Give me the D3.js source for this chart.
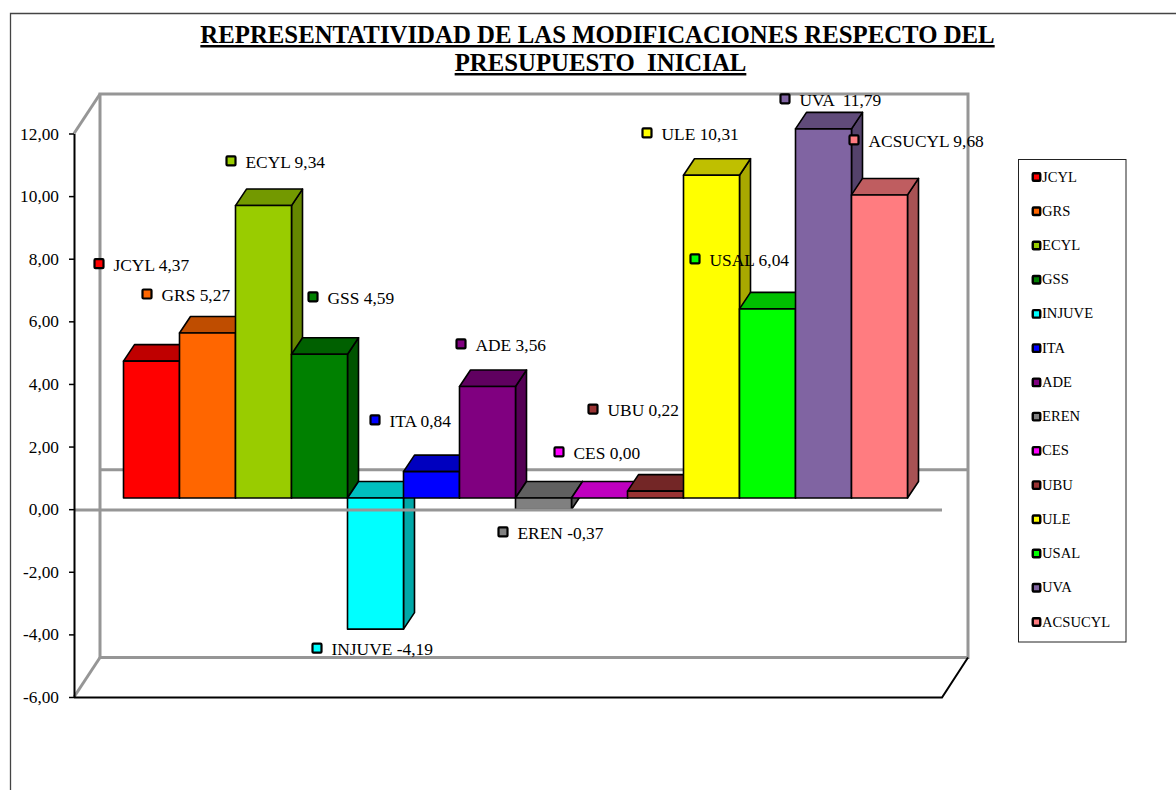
<!DOCTYPE html>
<html>
<head>
<meta charset="utf-8">
<script src="https://cdn.jsdelivr.net/npm/d3@7"></script>
<style>
html,body{margin:0;padding:0;background:#fff;}
svg{display:block;font-family:"Liberation Serif","Times New Roman",serif;}
text{white-space:pre;fill:#000;}
</style>
</head>
<body>
<div id="chart"></div>
<script>
const categories = ["JCYL","GRS","ECYL","GSS","INJUVE","ITA","ADE","EREN","CES","UBU","ULE","USAL","UVA","ACSUCYL"];
const values = [4.37,5.27,9.34,4.59,-4.19,0.84,3.56,-0.37,0,0.22,10.31,6.04,11.79,9.68];
const colors = ["#ff0000","#ff6600","#99cc00","#008000","#00ffff","#0000ff","#800080","#808080","#ff00ff","#993333","#ffff00","#00ff00","#8064a2","#ff7c80"];
const labelTexts = ["JCYL 4,37","GRS 5,27","ECYL 9,34","GSS 4,59","INJUVE -4,19","ITA 0,84","ADE 3,56","EREN -0,37","CES 0,00","UBU 0,22","ULE 10,31","USAL 6,04","UVA  11,79","ACSUCYL 9,68"];
const titleLines = ["REPRESENTATIVIDAD DE LAS MODIFICACIONES RESPECTO DEL","PRESUPUESTO  INICIAL"];
const yTicks = [-6,-4,-2,0,2,4,6,8,10,12];
// label marker offset from each bar's front corner (layout only)
const labelOffsets = [[-24.5,-97.5],[-32.5,-39],[-4.5,-44.6],[21.5,-57.4],[-30.5,19],[-28.5,-51.7],[1.5,-42.6],[-12.5,22.4],[-12.5,-46],[-34.5,-82],[-36.5,-42.3],[-44.5,-50],[-10.5,-30],[2.5,-55]];

const W = 1176, H = 790;
const svg = d3.select("#chart").append("svg").attr("width", W).attr("height", H);

const axisX = 74, rightX = 942, wallDX = 26, wallDY = -39.5;
const y = d3.scaleLinear().domain([-6,12]).range([697,133.5]);
const x = d3.scaleBand().domain(categories).range([123.5,907.5]);
const depthX = 11, depthY = -16.5, frontLift = 11.2;
const fmt = d => d.toFixed(2).replace(".", ",");

// outer frame
svg.append("path").attr("d",`M10.5,790V13.5H${W}`).attr("fill","none").attr("stroke","#444").attr("stroke-width",1.3);

// title
const title = svg.append("g").attr("font-weight","bold").attr("font-size",24.8).attr("text-decoration","underline").attr("text-anchor","middle");
title.append("text").attr("x",597.5).attr("y",43).text(titleLines[0]);
title.append("text").attr("x",600.5).attr("y",71).text(titleLines[1]);

// walls
const grey = "#969696";
const wallTop = y(12)+wallDY, wallBot = y(-6)+wallDY;
const wall = svg.append("g").attr("fill","none").attr("stroke",grey).attr("stroke-width",3);
wall.append("path").attr("d",`M${axisX+wallDX},${wallBot}V${wallTop}H${rightX+wallDX}V${wallBot}Z`);
wall.append("path").attr("d",`M${axisX},${y(12)}L${axisX+wallDX},${wallTop}`);
wall.append("path").attr("d",`M${axisX},${y(-6)}L${axisX+wallDX},${wallBot}`);
wall.append("path").attr("d",`M${axisX+wallDX},${y(0)+wallDY}H${rightX+wallDX}`);

// bars
const shade = (c,k) => { const r = d3.rgb(c); return d3.rgb(r.r*k,r.g*k,r.b*k).formatHex(); };
const bars = svg.append("g").attr("stroke","#000").attr("stroke-width",1.6).attr("stroke-linejoin","round")
  .selectAll("g").data(categories).join("g");
bars.each(function(name,i){
  const g = d3.select(this), v = values[i];
  const x0 = x(name), x1 = x0 + x.bandwidth();
  const yTop = y(Math.max(v,0)) - frontLift, yBot = y(Math.min(v,0)) - frontLift;
  g.append("path").attr("fill",shade(colors[i],0.66))
    .attr("d",`M${x1},${yTop}L${x1+depthX},${yTop+depthY}V${yBot+depthY}L${x1},${yBot}Z`);
  g.append("path").attr("fill",shade(colors[i],0.75))
    .attr("d",`M${x0},${yTop}L${x0+depthX},${yTop+depthY}H${x1+depthX}L${x1},${yTop}Z`);
  g.append("rect").attr("x",x0).attr("y",yTop).attr("width",x.bandwidth()).attr("height",yBot-yTop).attr("fill",colors[i]);
});

// front zero line, floor edges
svg.append("line").attr("x1",axisX).attr("x2",rightX).attr("y1",y(0)+0.8).attr("y2",y(0)+0.8)
  .attr("stroke",grey).attr("stroke-width",3);
svg.append("path").attr("d",`M${axisX},${y(-6)+0.5}H${rightX}L${rightX+wallDX},${wallBot}`)
  .attr("fill","none").attr("stroke","#000").attr("stroke-width",2);

// axis
const axis = svg.append("g").attr("transform",`translate(${axisX},0)`)
  .call(d3.axisLeft(y).tickValues(yTicks).tickFormat(fmt).tickSize(5).tickPadding(10).tickSizeOuter(0));
axis.select(".domain").attr("stroke","#000").attr("stroke-width",2);
axis.selectAll(".tick line").attr("stroke","#000").attr("stroke-width",1.5);
axis.selectAll(".tick text").attr("font-size",17.3).attr("font-family","Liberation Serif").attr("fill","#000");

// data labels
const labels = svg.append("g").selectAll("g").data(categories).join("g")
  .attr("transform",(d,i)=>{
    const ref = y(values[i]) - frontLift;
    return `translate(${x(d)+labelOffsets[i][0]},${ref+labelOffsets[i][1]})`;
  });
labels.append("rect").attr("x",-4.5).attr("y",-4.5).attr("width",9).attr("height",9).attr("rx",1)
  .attr("fill",(d,i)=>colors[i]).attr("stroke","#000").attr("stroke-width",2.2);
labels.append("text").attr("x",14.5).attr("y",7).attr("font-size",17.4).text((d,i)=>labelTexts[i]);

// legend
svg.append("rect").attr("x",1018.5).attr("y",159.5).attr("width",107.5).attr("height",482.5)
  .attr("fill","#fff").attr("stroke","#222").attr("stroke-width",1);
const legendY = d3.scalePoint().domain(categories).range([177,622]);
const leg = svg.append("g").selectAll("g").data(categories).join("g")
  .attr("transform",d=>`translate(1036.5,${legendY(d)})`);
leg.append("rect").attr("x",-3.75).attr("y",-3.75).attr("width",7.5).attr("height",7.5).attr("rx",1)
  .attr("fill",(d,i)=>colors[i]).attr("stroke","#000").attr("stroke-width",2.4);
leg.append("text").attr("x",5.5).attr("y",4.5).attr("font-size",14.6).text(d=>d);
</script>
</body>
</html>
